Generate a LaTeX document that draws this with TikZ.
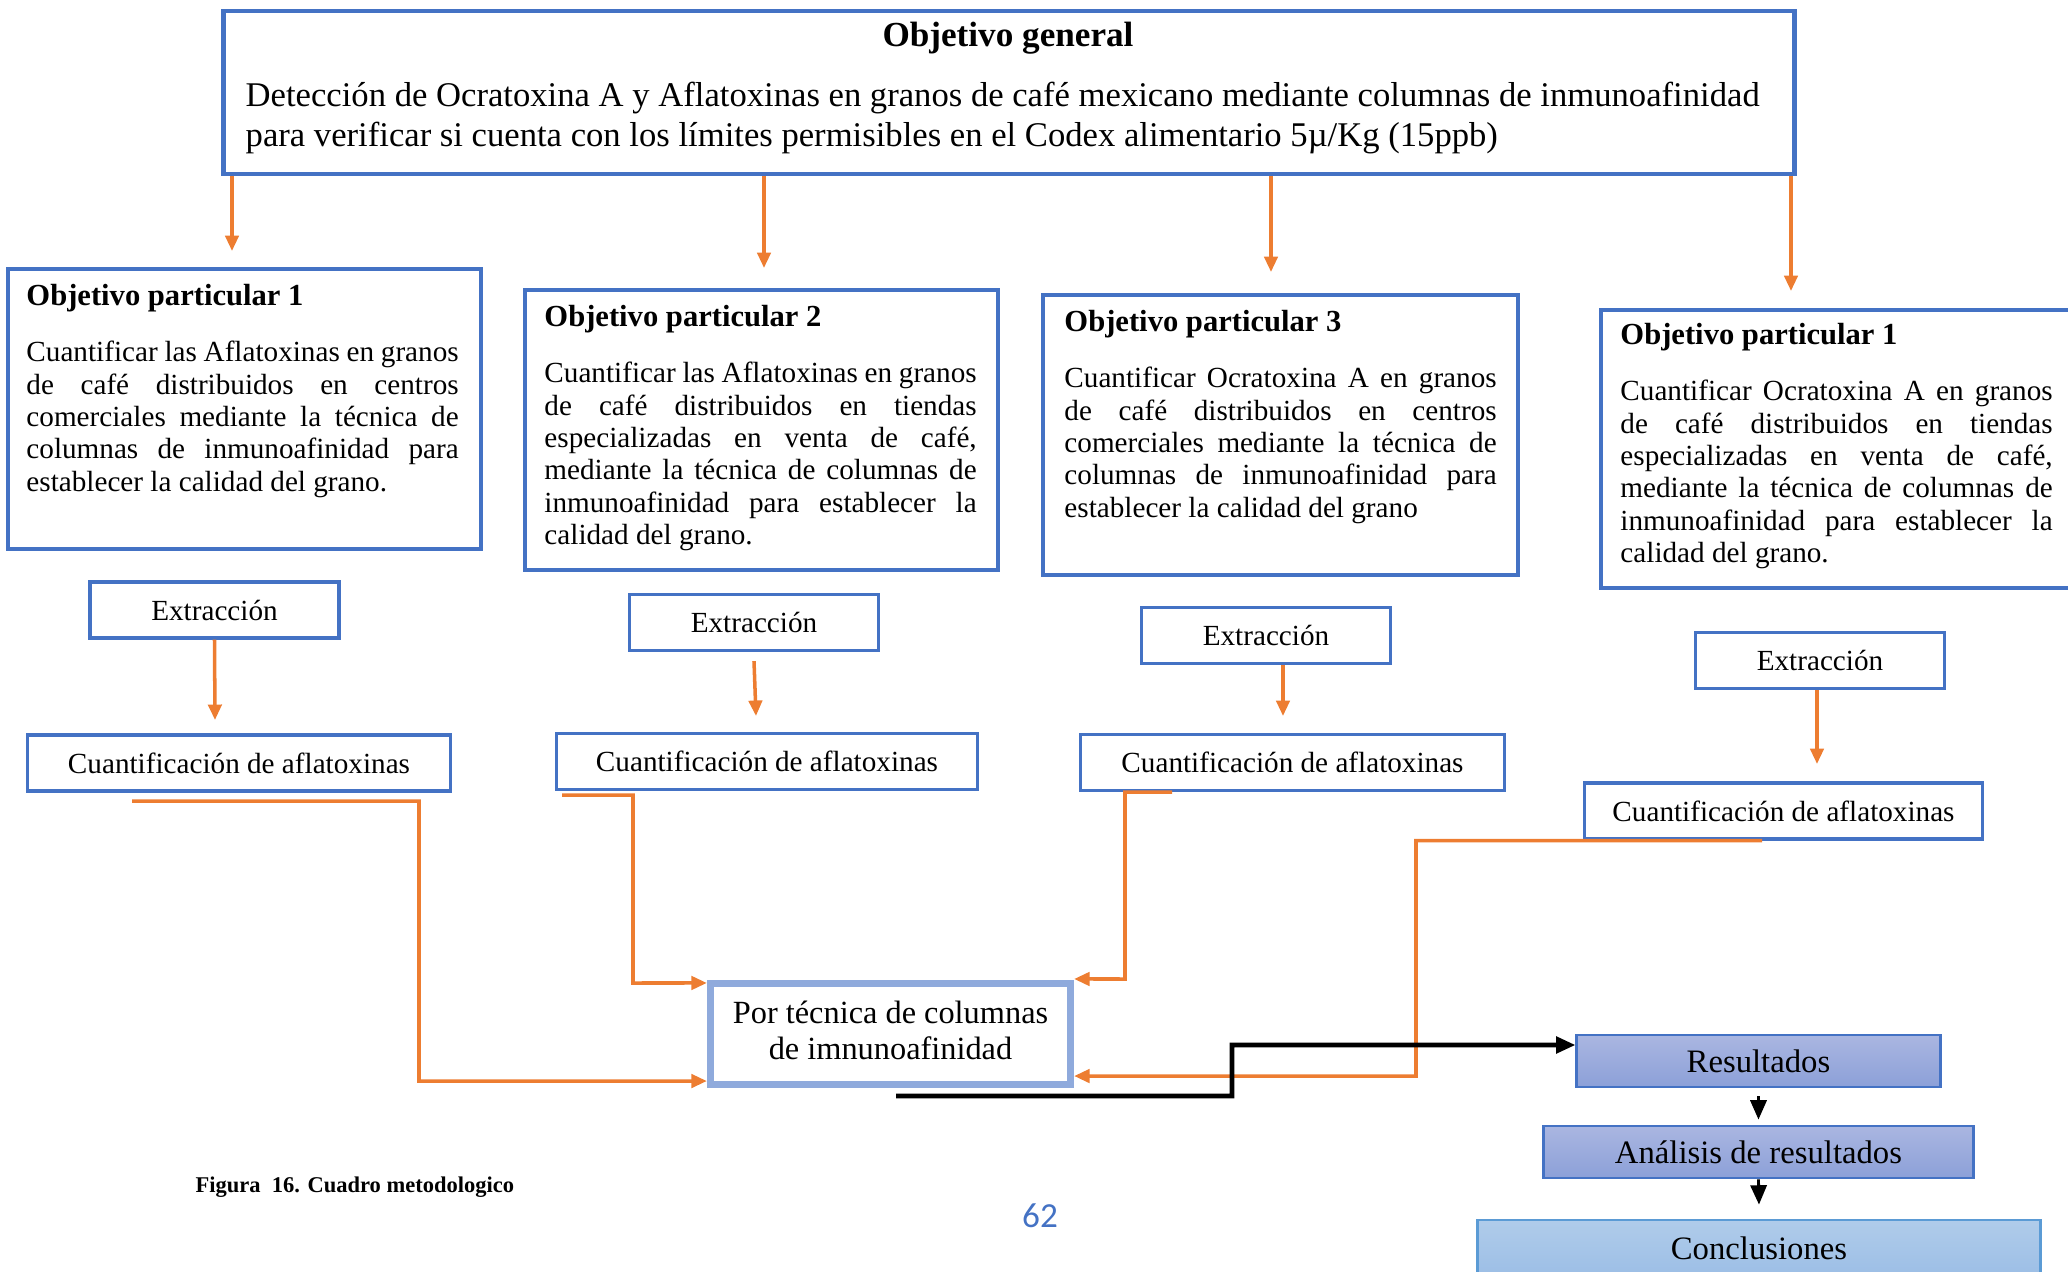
\documentclass[tikz,border=0pt]{standalone}
\usepackage{fontspec}
\setmainfont{Liberation Serif}
\newfontfamily\numfont{Carlito}
\usetikzlibrary{positioning}
\usetikzlibrary{arrows.meta}

\definecolor{azul}{RGB}{68,114,196}
\definecolor{naranja}{RGB}{237,125,49}
\definecolor{azulclaro}{RGB}{143,170,220}
\definecolor{resarriba}{RGB}{170,182,225}
\definecolor{resabajo}{RGB}{140,160,216}
\definecolor{conarriba}{RGB}{176,204,234}
\definecolor{conabajo}{RGB}{156,190,230}
\definecolor{conborde}{RGB}{91,155,213}

\begin{document}
\begin{tikzpicture}[x=0.01cm,y=-0.01cm,
        objbox/.style={draw=azul,line width=1.2pt,inner sep=0pt},
        smallbox/.style={draw=azul,line width=0.9pt,inner sep=0pt,minimum height=0.56cm,
            font=\fontsize{8.3}{9.2}\selectfont},
        ptext/.style={inner sep=0pt,text width=4.32cm,align=justify,
            font=\fontsize{8.3}{9.2}\selectfont},
        resbox/.style={draw=azul,line width=0.8pt,inner sep=0pt,minimum height=0.52cm,
            top color=resarriba,bottom color=resabajo,font=\fontsize{9.3}{10}\selectfont},
        oarrow/.style={draw=naranja,line width=1pt,-{Triangle[width=3.8pt,length=4.4pt]}},
        karrow/.style={draw=black,line width=#1,-{Triangle[width=4.6pt,length=5.5pt]}},
        karrow/.default=0.8pt]

    \useasboundingbox (0,0) rectangle (2068,1272);

    % Objetivo general
    \node[objbox,minimum width=15.7cm,minimum height=1.63cm] (gen) at (1009,92.5) {};
    \node[font=\bfseries\fontsize{10}{12}\selectfont] (gentit) at (1008,38) {Objetivo general};
    \node[anchor=west,align=left,inner sep=0pt,font=\fontsize{9.85}{11.3}\selectfont] (gentxt) at (245,118)
        {Detección de Ocratoxina A y Aflatoxinas en granos de café mexicano mediante columnas de inmunoafinidad\\
         para verificar si cuenta con los límites permisibles en el Codex alimentario 5µ/Kg (15ppb)};

    % Objetivos particulares
    \node[objbox,minimum width=4.73cm,minimum height=2.80cm] (p1) at (244.5,409) {};
    \node[objbox,minimum width=4.73cm,minimum height=2.80cm] (p2) at (761.5,430) {};
    \node[objbox,minimum width=4.75cm,minimum height=2.80cm] (p3) at (1280.5,435) {};
    \node[objbox,minimum width=4.79cm,minimum height=2.78cm] (p4) at (1840.5,449) {};

    \node[ptext,below right=0.17cm and 0.2cm of p1.north west] (p1txt)
        {{\bfseries\fontsize{8.7}{9.2}\selectfont Objetivo particular 1}\par\vspace{6.7pt}
         Cuantificar las Aflatoxinas en granos\linebreak
         de café distribuidos en centros\linebreak
         comerciales mediante la técnica de\linebreak
         columnas de inmunoafinidad para\linebreak
         establecer la calidad del grano.};
    \node[ptext,below right=0.17cm and 0.21cm of p2.north west] (p2txt)
        {{\bfseries\fontsize{8.7}{9.2}\selectfont Objetivo particular 2}\par\vspace{6.7pt}
         Cuantificar las Aflatoxinas en granos\linebreak
         de café distribuidos en tiendas\linebreak
         especializadas en venta de café,\linebreak
         mediante la técnica de columnas de\linebreak
         inmunoafinidad para establecer la\linebreak
         calidad del grano.};
    \node[ptext,below right=0.17cm and 0.23cm of p3.north west] (p3txt)
        {{\bfseries\fontsize{8.7}{9.2}\selectfont Objetivo particular 3}\par\vspace{6.7pt}
         Cuantificar Ocratoxina A en granos\linebreak
         de café distribuidos en centros\linebreak
         comerciales mediante la técnica de\linebreak
         columnas de inmunoafinidad para\linebreak
         establecer la calidad del grano};
    \node[ptext,below right=0.15cm and 0.21cm of p4.north west] (p4txt)
        {{\bfseries\fontsize{8.7}{9.2}\selectfont Objetivo particular 1}\par\vspace{6.7pt}
         Cuantificar Ocratoxina A en granos\linebreak
         de café distribuidos en tiendas\linebreak
         especializadas en venta de café,\linebreak
         mediante la técnica de columnas de\linebreak
         inmunoafinidad para establecer la\linebreak
         calidad del grano.};

    % Extraccion y cuantificacion
    \foreach \i/\x/\y in {1/214.5/610, 2/754/622.5, 3/1266/635.5, 4/1820/660.5}{
        \node[smallbox,minimum width=2.49cm] (e\i) at (\x,\y) {Extracción};
    }
    \foreach \i/\x/\y/\w in {1/239/763/4.22cm, 2/767/761.5/4.20cm, 3/1292.5/762.5/4.23cm, 4/1783.5/811/3.97cm}{
        \node[smallbox,minimum width=\w] (c\i) at (\x,\y) {Cuantificación de aflatoxinas};
    }

    % Tecnica
    \node[draw=azulclaro,line width=2pt,minimum width=3.6cm,minimum height=1.01cm,align=center,
        font=\fontsize{9.2}{10.3}\selectfont] (por) at (890.5,1034)
        {Por técnica de columnas\\de imnunoafinidad\vphantom{p}};

    % Resultados
    \node[resbox,minimum width=3.63cm] (res) at (1758.5,1061) {Resultados};
    \node[resbox,minimum width=4.29cm] (ana) at (1758.5,1152) {Análisis de resultados};
    \node[draw=conborde,line width=0.8pt,inner sep=0pt,minimum width=5.62cm,minimum height=0.56cm,
        top color=conarriba,bottom color=conabajo,font=\fontsize{9.3}{10}\selectfont] (conc) at (1759,1248) {Conclusiones};

    % flechas del objetivo general
    \coordinate (t1) at (232,251);
    \coordinate (t2) at (764,268);
    \coordinate (t3) at (1271,272);
    \coordinate (t4) at (1791,291);
    \foreach \i in {1,2,3,4}{
        \draw[oarrow] (gen.south -| t\i) -- (t\i);
    }

    % extraccion -> cuantificacion
    \coordinate (f1) at (215,720);
    \coordinate (f2) at (756,716);
    \coordinate (f3) at (1283,716);
    \coordinate (f4) at (1817,764);
    \draw[oarrow] (e1.south) -- (f1);
    \draw[oarrow] ([yshift=-0.09cm]e2.south) -- (f2);
    \draw[oarrow] (e3.south -| f3) -- (f3);
    \draw[oarrow] (e4.south -| f4) -- (f4);

    % cuantificacion -> tecnica
    \coordinate (s1) at (132,801);
    \coordinate (s2) at (562,795);
    \coordinate (s3) at (1172,792);
    \coordinate (s4) at (1762,839);
    \draw[oarrow] (s1) -| (419,1081) -- ([yshift=-0.47cm]por.west);
    \draw[oarrow] (s2) -| (633,983) -- ([yshift=0.51cm]por.west);
    \draw[oarrow] (s3) -| (1125,979) -- ([yshift=0.55cm]por.east);
    \draw[oarrow] (c4.south -| s4) -| (1416,1076) -- ([yshift=-0.42cm]por.east);

    % tecnica -> resultados
    \coordinate (k1) at (896,1096);
    \draw[karrow=1.3pt] (k1) -| (1232,1045) -- ([yshift=0.16cm]res.west);
    \draw[karrow] ([yshift=-0.08cm]res.south) -- ([yshift=0.05cm]ana.north);
    \draw[karrow] (ana.south) -- ([yshift=0.14cm]conc.north);

    % pie
    \node[anchor=west,inner sep=0pt,font=\bfseries\fontsize{6.4}{7.5}\selectfont] (cap) at (195,1187) {Figura\ \ 16. Cuadro metodologico};
    \node[text=azul,font=\numfont\fontsize{10}{12}\selectfont] (pag) at (1040,1216) {62};
\end{tikzpicture}
\end{document}
